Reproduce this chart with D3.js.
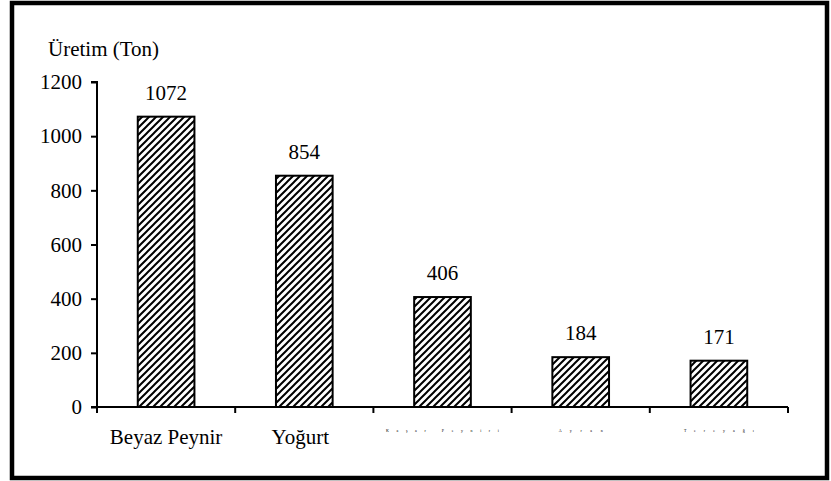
<!DOCTYPE html>
<html><head><meta charset="utf-8">
<script src="https://cdn.jsdelivr.net/npm/d3@7"></script>
<style>body{margin:0;background:#fff}svg{display:block}</style>
</head><body>
<svg id="c" width="831" height="481" font-family="Liberation Serif, DejaVu Serif, serif"></svg>
<script>
const categories = ["Beyaz Peynir","Yoğurt","Kaşar Peyniri","Ayran","Tereyağı"];
const values = [1072, 854, 406, 184, 171];
const yTicks = [0,200,400,600,800,1000,1200];
const yTitle = "Üretim (Ton)";

const FONT = "Liberation Serif, DejaVu Serif, serif";
const FS = 21;
const svg = d3.select("#c");
const defs = svg.append("defs");
const pat = defs.append("pattern").attr("id","hatch").attr("patternUnits","userSpaceOnUse")
  .attr("width",7).attr("height",7);
pat.append("rect").attr("width",7).attr("height",7).attr("fill","#fff");
pat.append("path").attr("d","M-1,1 l2,-2 M0,7 l7,-7 M6,8 l2,-2").attr("stroke","#000").attr("stroke-width",2);

// frame
svg.append("rect").attr("x",12).attr("y",3).attr("width",815).attr("height",475)
  .attr("fill","none").attr("stroke","#000").attr("stroke-width",4.5);

const x = d3.scaleBand().domain(categories).range([97,788]).paddingInner(0.59).paddingOuter(0.295);
const xb = d3.scaleBand().domain(categories).range([97,788]);
const y = d3.scaleLinear().domain([0,1200]).range([407,82]);

const ya = svg.append("g").attr("transform","translate(97,0)")
  .call(d3.axisLeft(y).tickValues(yTicks).tickFormat(d3.format("d")).tickSize(6).tickPadding(9));
ya.attr("font-family",FONT).attr("font-size",FS);
ya.select(".domain").attr("stroke-width",2).attr("d","M-6,82H0V407H-6");
ya.selectAll(".tick line").attr("stroke-width",2);
ya.selectAll("text").attr("fill","#000");

// x axis
svg.append("line").attr("x1",97).attr("x2",788).attr("y1",407).attr("y2",407).attr("stroke","#000").attr("stroke-width",2);
const bounds = categories.map(c=>xb(c)).concat([788]);
svg.selectAll(".xt").data(bounds).join("line").attr("x1",d=>d).attr("x2",d=>d)
  .attr("y1",407).attr("y2",413).attr("stroke","#000").attr("stroke-width",2);

svg.selectAll(".bar").data(values).join("rect")
  .attr("x",(d,i)=>x(categories[i])).attr("width",x.bandwidth())
  .attr("y",d=>y(d)).attr("height",d=>y(0)-y(d))
  .attr("fill","url(#hatch)").attr("stroke","#000").attr("stroke-width",2);

svg.selectAll(".val").data(values).join("text")
  .attr("x",(d,i)=>x(categories[i])+x.bandwidth()/2).attr("y",d=>y(d)-17)
  .attr("text-anchor","middle").attr("font-family",FONT).attr("font-size",FS).text(d=>d);

svg.selectAll(".cat").data(categories).join("text")
  .attr("x",(d,i)=> i<2 ? x(d)+x.bandwidth()/2 + (i==1?-4:0) : x(d)+x.bandwidth()/2)
  .attr("y",(d,i)=> i<2 ? 444 : 432)
  .attr("text-anchor","middle").attr("font-family",FONT)
  .each(function(d,i){
    const t=d3.select(this);
    if(i<2){ t.attr("font-size",FS); }
    else {
      const len = (d.length-1)*(i==2?9.4:(i==3?11:10));
      t.attr("font-size",4).attr("textLength",len).attr("lengthAdjust","spacing");
    }
  })
  .text(d=>d);

svg.append("text").attr("x",48).attr("y",56).attr("font-family",FONT).attr("font-size",FS).text(yTitle);
</script>
</body></html>
